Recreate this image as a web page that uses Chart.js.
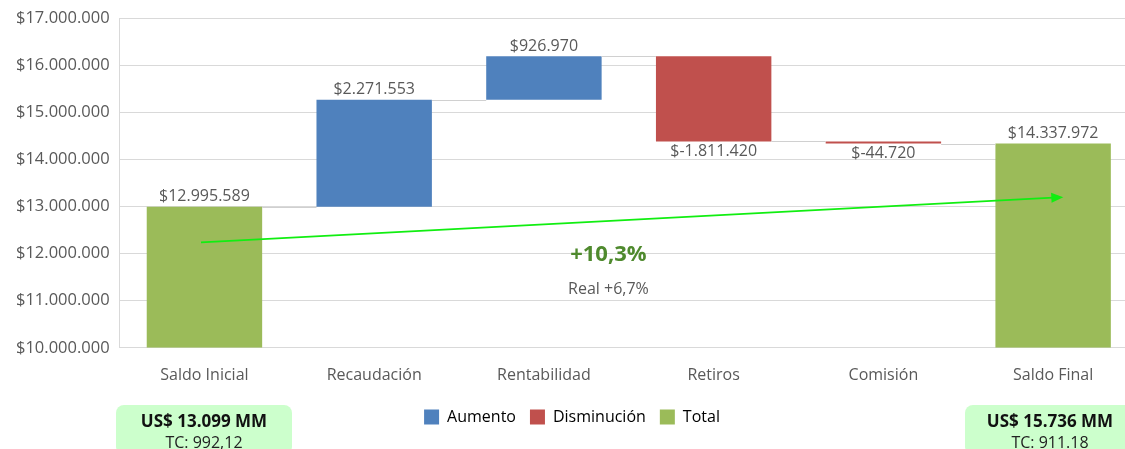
<!DOCTYPE html>
<html>
<head>
<meta charset="utf-8">
<script src="https://cdn.jsdelivr.net/npm/chart.js@4/dist/chart.umd.min.js"></script>
<style>
  body { margin: 0; overflow: hidden; background: #fff; font-family: 'Open Sans', sans-serif; }
  #wrap { position: absolute; left: 0; top: 0; width: 1140px; height: 449px; }
  .box { position: absolute; background: #ccffcc; border-radius: 8px; text-align: center; color: #111; }
  .box b { display: block; font-size: 17px; line-height: 21px; margin-top: 5px; }
  .box span { display: block; font-size: 16px; line-height: 22px; color: #222; }
</style>
</head>
<body>
<div id="wrap"><canvas id="waterfall"></canvas></div>
<div class="box" style="left:116px; top:405px; width:176px; height:50px;"><b>US$ 13.099 MM</b><span>TC: 992,12</span></div>
<div class="box" style="left:965px; top:405px; width:170px; height:50px;"><b>US$ 15.736 MM</b><span>TC: 911.18</span></div>
<script>
var categories = ['Saldo Inicial', 'Recaudación', 'Rentabilidad', 'Retiros', 'Comisión', 'Saldo Final'];
var amounts = [12995589, 2271553, 926970, -1811420, -44720, 14337972];
var kinds = ['total', 'up', 'up', 'down', 'down', 'total'];
var yTicks = [10000000, 11000000, 12000000, 13000000, 14000000, 15000000, 16000000, 17000000];
var arrowFrom = [-0.02, 12240000];
var arrowTo = [5.06, 13200000];

var colors = { up: '#4f81bd', down: '#c0504d', total: '#9bbb59' };
var names = { up: 'Aumento', down: 'Disminución', total: 'Total' };

function money(v) {
  var s = Math.abs(v).toString().replace(/\B(?=(\d{3})+(?!\d))/g, '.');
  return v < 0 ? '$-' + s : '$' + s;
}

// floating bars built from the running total
var bars = [];
var run = 0;
for (var i = 0; i < amounts.length; i++) {
  if (kinds[i] == 'total') {
    bars.push([yTicks[0], amounts[i]]);
    run = amounts[i];
  } else {
    bars.push([run, run + amounts[i]]);
    run = run + amounts[i];
  }
}

var extras = {
  id: 'extras',
  afterDatasetsDraw: function (c) {
    var ctx = c.ctx, x = c.scales.x, y = c.scales.y;
    var meta = c.getDatasetMeta(0);
    var step = x.getPixelForValue(1) - x.getPixelForValue(0);
    function xAt(v) { return x.getPixelForValue(0) + step * v; }
    ctx.save();
    // connectors
    ctx.strokeStyle = '#d0d0d0';
    ctx.lineWidth = 1;
    for (var i = 0; i < bars.length - 1; i++) {
      var a = meta.data[i], b = meta.data[i + 1];
      var lvl = Math.round(y.getPixelForValue(bars[i][1])) + 0.5;
      ctx.beginPath();
      ctx.moveTo(a.x + a.width / 2, lvl);
      ctx.lineTo(b.x - b.width / 2, lvl);
      ctx.stroke();
    }
    // value labels
    ctx.font = '16px "Open Sans"';
    ctx.fillStyle = '#595959';
    ctx.textAlign = 'center';
    for (var j = 0; j < bars.length; j++) {
      var el = meta.data[j];
      if (kinds[j] == 'down') {
        ctx.textBaseline = 'top';
        ctx.fillText(money(amounts[j]), el.x, y.getPixelForValue(bars[j][1]) + 2);
      } else {
        ctx.textBaseline = 'bottom';
        ctx.fillText(money(amounts[j]), el.x, y.getPixelForValue(bars[j][1]) - 2);
      }
    }
    // arrow
    var x1 = xAt(arrowFrom[0]), y1 = y.getPixelForValue(arrowFrom[1]);
    var x2 = xAt(arrowTo[0]), y2 = y.getPixelForValue(arrowTo[1]);
    var ang = Math.atan2(y2 - y1, x2 - x1);
    ctx.strokeStyle = '#11ee11';
    ctx.fillStyle = '#11ee11';
    ctx.lineWidth = 1.6;
    ctx.beginPath();
    ctx.moveTo(x1, y1);
    ctx.lineTo(x2 - 10 * Math.cos(ang), y2 - 10 * Math.sin(ang));
    ctx.stroke();
    ctx.beginPath();
    ctx.moveTo(x2, y2);
    ctx.lineTo(x2 - 12 * Math.cos(ang) + 5 * Math.sin(ang), y2 - 12 * Math.sin(ang) - 5 * Math.cos(ang));
    ctx.lineTo(x2 - 12 * Math.cos(ang) - 5 * Math.sin(ang), y2 - 12 * Math.sin(ang) + 5 * Math.cos(ang));
    ctx.closePath();
    ctx.fill();
    // growth text
    var cx = xAt(2.38);
    ctx.textBaseline = 'middle';
    ctx.fillStyle = '#4f8a2e';
    ctx.font = 'bold 22px "Open Sans"';
    ctx.fillText('+10,3%', cx, y.getPixelForValue(11970000));
    ctx.fillStyle = '#595959';
    ctx.font = '16px "Open Sans"';
    ctx.fillText('Real +6,7%', cx, y.getPixelForValue(11230000));
    ctx.restore();
  }
};

new Chart(document.getElementById('waterfall'), {
  type: 'bar',
  data: {
    labels: categories,
    datasets: [{
      data: bars,
      backgroundColor: kinds.map(function (k) { return colors[k]; }),
      borderSkipped: false,
      barPercentage: 0.68,
      categoryPercentage: 1
    }]
  },
  options: {
    responsive: true,
    maintainAspectRatio: false,
    animation: false,
    layout: { padding: { top: 3, left: 6, right: 2, bottom: 14 } },
    plugins: {
      tooltip: { enabled: false },
      legend: {
        position: 'bottom',
        labels: {
          boxWidth: 15,
          boxHeight: 15,
          padding: 14,
          color: '#595959',
          font: { family: 'Open Sans', size: 16 },
          generateLabels: function () {
            return ['up', 'down', 'total'].map(function (k) {
              return { text: names[k], fillStyle: colors[k], strokeStyle: colors[k], lineWidth: 0 };
            });
          }
        }
      }
    },
    scales: {
      x: {
        grid: { display: false },
        border: { color: '#d9d9d9' },
        ticks: { color: '#595959', font: { family: 'Open Sans', size: 16 }, padding: 10 }
      },
      y: {
        min: yTicks[0],
        max: yTicks[yTicks.length - 1],
        afterBuildTicks: function (s) { s.ticks = yTicks.map(function (v) { return { value: v }; }); },
        grid: { color: '#d9d9d9', drawTicks: false },
        border: { color: '#d9d9d9' },
        ticks: { color: '#595959', font: { family: 'Open Sans', size: 16.5, lineHeight: 1 }, padding: 10, callback: function (v) { return money(v); } }
      }
    }
  },
  plugins: [extras]
});
</script>
</body>
</html>
